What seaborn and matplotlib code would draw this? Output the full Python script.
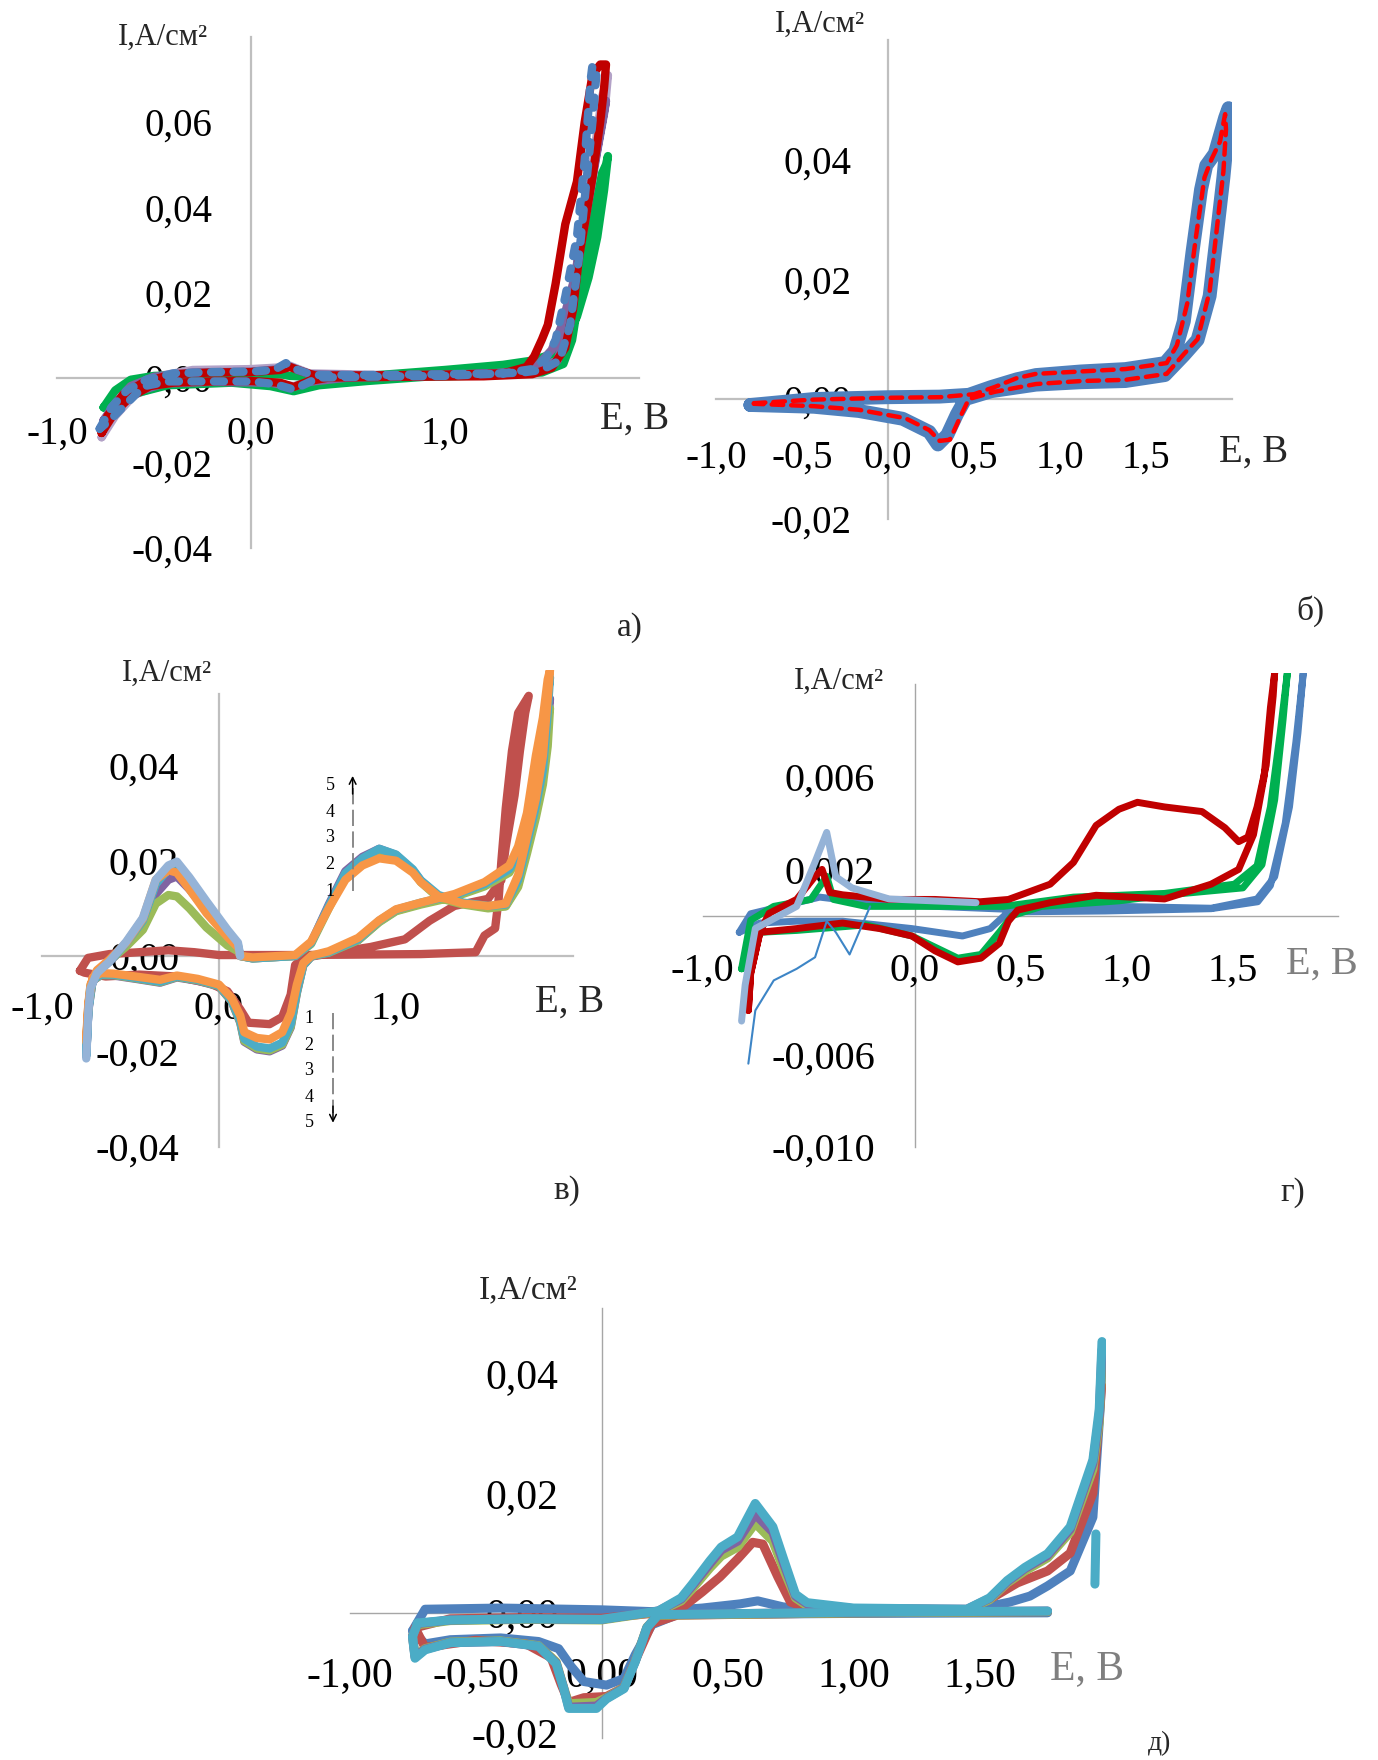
import matplotlib
matplotlib.use("Agg")
import matplotlib.pyplot as plt
import seaborn as sns

W, H = 1378, 1760

# ---------------- panel а) ----------------
a_red_E = [-0.77, -0.74, -0.66, -0.55, -0.40, -0.20, 0.00, 0.15, 0.20, 0.26, 0.33, 0.60, 1.00, 1.30, 1.42,
           1.46, 1.50, 1.53, 1.57, 1.62, 1.68, 1.72, 1.76, 1.80, 1.83, 1.82, 1.80, 1.76, 1.72, 1.69, 1.66,
           1.62, 1.55, 1.45, 1.20, 0.80, 0.40, 0.30, 0.22, 0.15, 0.00, -0.20, -0.40, -0.52, -0.62, -0.70, -0.77]
a_red_I = [-0.013, -0.009, -0.004, -0.001, 0.0008, 0.0012, 0.0013, 0.0018, 0.0025, 0.0015, 0.0005, 0.0005,
           0.0007, 0.0010, 0.0025, 0.005, 0.009, 0.0124, 0.022, 0.036, 0.046, 0.060, 0.071, 0.0735, 0.0735,
           0.068, 0.060, 0.047, 0.036, 0.028, 0.016, 0.007, 0.0023, 0.0008, 0.0003, 0.0002, 0.0, -0.0008,
           -0.0022, -0.0012, -0.0008, -0.0009, -0.0012, -0.002, -0.0045, -0.008, -0.013]

a_blue_E = [-0.78, -0.72, -0.64, -0.54, -0.40, -0.20, 0.00, 0.12, 0.18, 0.24, 0.32, 0.60, 1.00, 1.30, 1.45,
            1.52, 1.57, 1.62, 1.68, 1.72, 1.75, 1.76, 1.78, 1.76, 1.73, 1.69, 1.645, 1.59, 1.50, 1.40, 1.00,
            0.60, 0.35, 0.28, 0.22, 0.12, 0.00, -0.20, -0.43, -0.55, -0.64, -0.72, -0.78]
a_blue_I = [-0.012, -0.007, -0.003, -0.0005, 0.0010, 0.0013, 0.0014, 0.0018, 0.0034, 0.0018, 0.0006, 0.0006,
            0.0008, 0.0010, 0.0020, 0.0045, 0.0088, 0.019, 0.033, 0.051, 0.0696, 0.0733, 0.071, 0.060, 0.0465,
            0.028, 0.0124, 0.004, 0.0018, 0.0012, 0.0004, 0.0002, 0.0, -0.0015, -0.0028, -0.0015, -0.0009,
            -0.0009, -0.0009, -0.002, -0.006, -0.0097, -0.012]

a_green_E = [-0.76, -0.70, -0.62, -0.50, -0.30, 0.00, 0.15, 0.20, 0.30, 0.60, 1.00, 1.30, 1.45, 1.55, 1.62,
             1.68, 1.74, 1.785, 1.82, 1.84, 1.83, 1.81, 1.76, 1.70, 1.655, 1.61, 1.50, 1.20, 0.90, 0.60, 0.35,
             0.22, 0.10, -0.10, -0.43, -0.62, -0.70, -0.76]
a_green_I = [-0.007, -0.003, -0.0005, 0.0004, 0.0006, 0.0006, 0.0008, 0.0004, 0.0002, 0.0004, 0.0018, 0.0030,
             0.0040, 0.0055, 0.009, 0.0143, 0.0235, 0.033, 0.044, 0.052, 0.050, 0.048, 0.036, 0.0217, 0.0088,
             0.0032, 0.0012, 0.0005, 0.0002, -0.0008, -0.0018, -0.0032, -0.002, -0.0012, -0.0018, -0.004,
             -0.0055, -0.007]

a_purple_E = [-0.76, -0.70, -0.62, -0.50, -0.30, 0.00, 0.15, 0.20, 0.30, 0.60, 1.00, 1.35, 1.48, 1.55, 1.60,
              1.66, 1.72, 1.77, 1.81, 1.83, 1.82, 1.78, 1.73, 1.68, 1.63, 1.58, 1.45, 1.00, 0.50, 0.30, 0.22,
              0.10, -0.20, -0.45, -0.60, -0.69, -0.76]
a_purple_I = [-0.010, -0.006, -0.002, 0.0002, 0.0012, 0.0014, 0.0020, 0.0026, 0.0008, 0.0005, 0.0007, 0.0012,
              0.0030, 0.0065, 0.012, 0.022, 0.036, 0.050, 0.060, 0.065, 0.062, 0.052, 0.040, 0.026, 0.012,
              0.004, 0.0015, 0.0004, 0.0, -0.0010, -0.0022, -0.0012, -0.0010, -0.0014, -0.0035, -0.007, -0.010]

a_lav_E = [-0.77, -0.72, -0.64, -0.52, -0.30, 0.00, 0.15, 0.20, 0.30, 0.70, 1.20, 1.45, 1.55, 1.62, 1.70,
           1.76, 1.81, 1.84, 1.83, 1.79, 1.74, 1.68, 1.62, 1.55, 1.30, 0.70, 0.32, 0.22, 0.10, -0.20, -0.45,
           -0.60, -0.70, -0.77]
a_lav_I = [-0.014, -0.009, -0.004, 0.0, 0.0018, 0.0020, 0.0024, 0.0028, 0.0010, 0.0006, 0.0009, 0.0020,
           0.0060, 0.014, 0.030, 0.050, 0.066, 0.071, 0.066, 0.055, 0.040, 0.024, 0.010, 0.003, 0.0008, 0.0002,
           -0.0006, -0.0020, -0.0012, -0.0010, -0.0015, -0.004, -0.009, -0.014]

# ---------------- panel б) ----------------
b_blue_E = [-0.80, -0.43, 0.00, 0.30, 0.47, 0.60, 0.75, 0.86, 1.12, 1.38, 1.61, 1.67, 1.72, 1.77, 1.82, 1.85,
            1.90, 1.96, 1.98, 1.98, 1.95, 1.91, 1.87, 1.80, 1.72, 1.61, 1.38, 1.12, 0.86, 0.60, 0.45, 0.40,
            0.345, 0.29, 0.24, 0.085, -0.17, -0.43, -0.80]
b_blue_I = [-0.001, 0.0, 0.0003, 0.0004, 0.0007, 0.002, 0.0033, 0.004, 0.0046, 0.005, 0.006, 0.008, 0.013,
            0.0245, 0.035, 0.039, 0.041, 0.047, 0.0486, 0.046, 0.037, 0.027, 0.0172, 0.0099, 0.0073, 0.0040,
            0.0030, 0.0028, 0.0024, 0.0013, 0.0, -0.0026, -0.0060, -0.0076, -0.0055, -0.0033, -0.0020,
            -0.0013, -0.0010]

b_red_E = [-0.78, -0.43, 0.00, 0.30, 0.50, 0.62, 0.75, 0.86, 1.12, 1.38, 1.62, 1.68, 1.74, 1.79, 1.84, 1.88,
           1.93, 1.96, 1.965, 1.95, 1.91, 1.87, 1.80, 1.72, 1.62, 1.38, 1.12, 0.86, 0.62, 0.47, 0.42, 0.36,
           0.30, 0.24, 0.10, -0.17, -0.43, -0.78]
b_red_I = [-0.0007, -0.0001, 0.0002, 0.0003, 0.0008, 0.002, 0.0035, 0.0042, 0.0046, 0.005, 0.006, 0.009,
           0.016, 0.027, 0.037, 0.040, 0.043, 0.0476, 0.045, 0.038, 0.028, 0.018, 0.010, 0.0075, 0.0042,
           0.0032, 0.003, 0.0025, 0.0012, 0.0, -0.003, -0.0068, -0.0070, -0.0052, -0.0032, -0.0018, -0.0012,
           -0.0008]

# ---------------- panel в) ----------------
v_E = [-0.75, -0.738, -0.726, -0.69, -0.62, -0.524, -0.43, -0.357, -0.286, -0.238, -0.167, -0.071, 0.048,
       0.107, 0.12, 0.19, 0.43, 0.52, 0.62, 0.714, 0.81, 0.905, 1.0, 1.095, 1.14, 1.24, 1.38, 1.52, 1.62,
       1.69, 1.74, 1.79, 1.83, 1.857, 1.87,
       1.857, 1.83, 1.79, 1.74, 1.69, 1.64, 1.5, 1.33, 1.14, 1.0, 0.905, 0.786, 0.62, 0.524, 0.476, 0.44,
       0.405, 0.357, 0.286, 0.214, 0.143, 0.12, 0.071, 0.0, -0.12, -0.238, -0.333, -0.452, -0.595, -0.667,
       -0.714, -0.738, -0.75]
v_teal_I = [-0.0209, -0.0112, -0.0066, -0.0035, -0.0012, 0.0027, 0.0074, 0.0151, 0.0182, 0.0190, 0.0155,
            0.0105, 0.005, 0.0023, 0.0, -0.0005, 0.0, 0.0027, 0.0105, 0.0174, 0.0205, 0.0225, 0.0213, 0.0182,
            0.0159, 0.0128, 0.0112, 0.0105, 0.0108, 0.0159, 0.0236, 0.0314, 0.039, 0.051, 0.0585,
            0.0546, 0.0469, 0.039, 0.0275, 0.0213, 0.0182, 0.0151, 0.0128, 0.0112, 0.0097, 0.0074, 0.0035,
            0.0008, 0.0, -0.0019, -0.0074, -0.0143, -0.0182, -0.0194, -0.019, -0.0174, -0.0136, -0.0093,
            -0.0062, -0.005, -0.0043, -0.0054, -0.0047, -0.0039, -0.0039, -0.005, -0.0112, -0.0209]
v_purple_I = [-0.0209, -0.0112, -0.0066, -0.0035, -0.0012, 0.0022, 0.0062, 0.0130, 0.0160, 0.0167, 0.0140,
              0.0095, 0.0045, 0.0020, 0.0, -0.0005, 0.0, 0.0027, 0.0108, 0.0178, 0.0208, 0.0225, 0.0212,
              0.0180, 0.0158, 0.0125, 0.0110, 0.0102, 0.0105, 0.0150, 0.0225, 0.0300, 0.0380, 0.0470, 0.0540,
              0.0520, 0.0450, 0.0375, 0.0265, 0.0208, 0.0178, 0.0148, 0.0126, 0.0110, 0.0095, 0.0072, 0.0033,
              0.0007, 0.0, -0.0020, -0.0078, -0.0150, -0.0188, -0.0200, -0.0196, -0.0180, -0.0140, -0.0095,
              -0.0064, -0.0052, -0.0045, -0.0056, -0.0049, -0.0041, -0.0040, -0.0052, -0.0115, -0.0205]
v_green_I = [-0.019, -0.0105, -0.0062, -0.0033, -0.0010, 0.0020, 0.0055, 0.0110, 0.0128, 0.0125, 0.0100,
             0.0060, 0.0022, 0.0010, 0.0, -0.0005, 0.0, 0.0025, 0.0100, 0.0170, 0.0200, 0.0212, 0.0205, 0.0178,
             0.0155, 0.0122, 0.0108, 0.0100, 0.0104, 0.0145, 0.0215, 0.0290, 0.0360, 0.0440, 0.0520,
             0.0500, 0.0430, 0.0360, 0.0260, 0.0205, 0.0175, 0.0146, 0.0124, 0.0108, 0.0094, 0.0071, 0.0033,
             0.0007, 0.0, -0.0019, -0.0076, -0.0148, -0.0186, -0.0198, -0.0194, -0.0178, -0.0138, -0.0094,
             -0.0063, -0.0051, -0.0044, -0.0055, -0.0048, -0.0040, -0.0040, -0.0051, -0.0110, -0.0180]
v_orange_I = [-0.018, -0.010, -0.006, -0.0030, -0.0008, 0.0028, 0.0078, 0.0160, 0.0180, 0.0175, 0.0140,
              0.0090, 0.0040, 0.0018, 0.0, -0.0003, 0.0002, 0.0030, 0.0100, 0.0160, 0.0190, 0.0205, 0.0200,
              0.0175, 0.0155, 0.0125, 0.0110, 0.0105, 0.0110, 0.0170, 0.0250, 0.0330, 0.0420, 0.0540, 0.0600,
              0.0580, 0.0500, 0.0420, 0.0300, 0.0230, 0.0190, 0.0155, 0.0130, 0.0112, 0.0098, 0.0075, 0.0038,
              0.0010, 0.0001, -0.0015, -0.0060, -0.0120, -0.0160, -0.0175, -0.0172, -0.0160, -0.0125, -0.0088,
              -0.0060, -0.0048, -0.0041, -0.0050, -0.0044, -0.0037, -0.0036, -0.0045, -0.0100, -0.0170]
v_lblue_I = [-0.0215, -0.0115, -0.0068, -0.0036, -0.0012, 0.0030, 0.0080, 0.0160, 0.0190, 0.0198, 0.0165,
             0.0115, 0.0055, 0.0028, 0.0]
v_red_E = [-0.786, -0.74, -0.62, -0.45, -0.286, -0.14, 0.0, 0.43, 0.80, 1.14, 1.45, 1.50, 1.56, 1.58, 1.595,
           1.62, 1.655, 1.69, 1.75, 1.73, 1.70, 1.67, 1.62, 1.595, 1.52, 1.33, 1.19, 1.05, 0.857, 0.667, 0.476,
           0.43, 0.405, 0.357, 0.286, 0.167, 0.12, 0.048, -0.048, -0.24, -0.45, -0.64, -0.76, -0.786]
v_red_I = [-0.0031, -0.0004, 0.0004, 0.0008, 0.0012, 0.0008, 0.0002, 0.0002, 0.0003, 0.0004, 0.0008, 0.0043,
           0.0058, 0.0120, 0.0198, 0.031, 0.043, 0.051, 0.0546, 0.051, 0.043, 0.0337, 0.0229, 0.0159, 0.0120,
           0.0105, 0.0074, 0.0035, 0.0019, 0.0008, -0.0004, -0.0019, -0.0081, -0.0128, -0.0143, -0.0140,
           -0.0112, -0.0074, -0.0058, -0.0043, -0.0039, -0.0043, -0.0035, -0.0031]

# ---------------- panel г) ----------------
g_red_E = [-0.785, -0.774, -0.73, -0.687, -0.557, -0.47, -0.437, -0.40, -0.34, -0.12, 0.096, 0.31, 0.443,
           0.64, 0.75, 0.857, 0.965, 1.052, 1.18, 1.357, 1.465, 1.53, 1.574, 1.617, 1.66, 1.693, 1.70,
           1.68, 1.65, 1.60, 1.53, 1.40, 1.18, 0.857, 0.64, 0.487, 0.443, 0.40, 0.313, 0.204, 0.096, -0.013,
           -0.165, -0.34, -0.557, -0.73, -0.774, -0.785]
g_red_I = [-0.0041, -0.0025, -0.0007, 0.0001, 0.0007, 0.0017, 0.0020, 0.0010, 0.0009, 0.0007, 0.0007, 0.0006,
           0.0007, 0.00136, 0.0023, 0.0039, 0.0046, 0.0049, 0.0047, 0.0045, 0.0038, 0.0032, 0.0034, 0.0047,
           0.0065, 0.0095, 0.0105,
           0.0090, 0.0060, 0.0035, 0.0020, 0.00136, 0.00072, 0.00088, 0.00056, 0.00024, -0.00024, -0.0012,
           -0.00184, -0.0020, -0.00152, -0.00088, -0.00056, -0.00032, -0.00056, -0.00072, -0.0025, -0.0041]
g_green_E = [-0.817, -0.774, -0.665, -0.49, -0.415, -0.383, -0.23, 0.096, 0.42, 0.75, 1.18, 1.51, 1.617, 1.68,
             1.726, 1.76, 1.74, 1.70, 1.64, 1.55, 1.2, 0.965, 0.60, 0.46, 0.40, 0.313, 0.204, -0.013, -0.23,
             -0.557, -0.73, -0.796, -0.817]
g_green_I = [-0.0023, -0.0002, 0.0004, 0.0007, 0.0017, 0.0007, 0.0004, 0.0004, 0.0004, 0.0008, 0.00096,
             0.00136, 0.00216, 0.0047, 0.0079, 0.0105, 0.0085, 0.0050, 0.0022, 0.0012, 0.0009, 0.00064, 0.0004,
             0.0, -0.00072, -0.00168, -0.00184, -0.00088, -0.0004, -0.00064, -0.00072, -0.0020, -0.0023]
g_blue_E = [-0.828, -0.774, -0.665, -0.448, -0.23, 0.10, 0.53, 0.965, 1.40, 1.617, 1.70, 1.77, 1.81, 1.835,
            1.80, 1.75, 1.68, 1.62, 1.40, 0.90, 0.443, 0.357, 0.226, -0.013, -0.34, -0.557, -0.73, -0.828]
g_blue_I = [-0.00072, 0.00008, 0.00032, 0.0008, 0.00056, 0.0004, 0.00024, 0.0004, 0.00032, 0.00072, 0.00168,
            0.0047, 0.0079, 0.0105, 0.0075, 0.0040, 0.0013, 0.0006, 0.0003, 0.0002, 0.00016, -0.00056,
            -0.00088, -0.00056, -0.00024, -0.00024, -0.00032, -0.00072]
g_lblue_E = [-0.817, -0.80, -0.752, -0.557, -0.47, -0.415, -0.372, -0.296, -0.12, 0.29]
g_lblue_I = [-0.00456, -0.0030, -0.00056, 0.0004, 0.00232, 0.0036, 0.00168, 0.0012, 0.00072, 0.00056]
g_thin_E = [-0.785, -0.752, -0.665, -0.557, -0.47, -0.415, -0.372, -0.307, -0.21]
g_thin_I = [-0.0064, -0.0041, -0.0028, -0.0023, -0.0018, -0.00024, -0.00072, -0.00168, 0.0004]

# ---------------- panel д) ----------------
d_fwd_E = [-0.73, -0.60, -0.30, 0.0, 0.225, 0.316, 0.36, 0.43, 0.475, 0.54, 0.61, 0.68, 0.725, 0.77, 0.816,
           1.0, 1.45, 1.54, 1.61, 1.68, 1.77, 1.86, 1.95, 1.975, 1.986]
d_rev_E = [1.77, 1.0, 0.225, 0.18, 0.134, 0.089, 0.02, -0.02, -0.13, -0.15, -0.18, -0.25, -0.40, -0.60, -0.70,
           -0.74, -0.75, -0.73]
d_cyan_fwd = [-0.0017, -0.0012, -0.0010, -0.0011, 0.0003, 0.0025, 0.0048, 0.0087, 0.0110, 0.0127, 0.0183,
              0.0144, 0.0087, 0.0031, 0.0017, 0.0008, 0.0006, 0.0025, 0.0054, 0.0076, 0.0099, 0.0144, 0.0256,
              0.0340, 0.0454]
d_cyan_rev = [0.0003, 0.0001, -0.0003, -0.0025, -0.0082, -0.0127, -0.0144, -0.0160, -0.0160, -0.0127, -0.0085,
              -0.0056, -0.0048, -0.0050, -0.0062, -0.0076, -0.0040, -0.0017]
d_green_fwd = [-0.0020, -0.0013, -0.0011, -0.0012, 0.0002, 0.0020, 0.0040, 0.0075, 0.0095, 0.0110, 0.0150,
               0.0120, 0.0070, 0.0025, 0.0012, 0.0006, 0.0005, 0.0022, 0.0050, 0.0070, 0.0092, 0.0135, 0.0240,
               0.0320, 0.0420]
d_green_rev = [0.0002, 0.0, -0.0004, -0.0024, -0.0080, -0.0125, -0.0142, -0.0150, -0.0152, -0.0125, -0.0082,
               -0.0055, -0.0047, -0.0049, -0.0060, -0.0072, -0.0038, -0.0020]
d_purple_fwd = [-0.0018, -0.0012, -0.0010, -0.0011, 0.0003, 0.0023, 0.0045, 0.0082, 0.0105, 0.0120, 0.0165,
                0.0135, 0.0080, 0.0028, 0.0015, 0.0007, 0.0006, 0.0024, 0.0052, 0.0074, 0.0096, 0.0140, 0.0250,
                0.0330, 0.0440]
d_purple_rev = [0.0003, 0.0001, -0.0003, -0.0025, -0.0081, -0.0126, -0.0143, -0.0156, -0.0158, -0.0126,
                -0.0084, -0.0056, -0.0048, -0.0050, -0.0061, -0.0074, -0.0039, -0.0018]
d_blue_fwd_E = [-0.75, -0.70, -0.40, 0.0, 0.2, 0.40, 0.55, 0.62, 0.72, 0.85, 1.45, 1.55, 1.62, 1.70, 1.77,
                1.86, 1.95, 1.98, 1.986]
d_blue_fwd_I = [-0.003, 0.0006, 0.0008, 0.0005, 0.0002, 0.0008, 0.0015, 0.0020, 0.0010, 0.0004, 0.0004,
                0.0012, 0.0018, 0.0028, 0.0045, 0.0070, 0.0160, 0.0350, 0.0430]
d_blue_rev_E = [1.77, 1.0, 0.3, 0.2, 0.134, 0.089, 0.02, -0.07, -0.12, -0.17, -0.25, -0.40, -0.60, -0.70, -0.75]
d_blue_rev_I = [0.0, -0.0001, -0.0003, -0.0020, -0.0070, -0.0110, -0.0121, -0.0115, -0.0090, -0.0060, -0.0048,
                -0.0042, -0.0045, -0.0052, -0.003]
d_red_fwd_E = [-0.74, -0.60, -0.30, 0.0, 0.225, 0.33, 0.40, 0.47, 0.54, 0.60, 0.64, 0.70, 0.75, 0.82, 1.45,
               1.55, 1.65, 1.77, 1.86, 1.95, 1.985]
d_red_fwd_I = [-0.0025, -0.0010, -0.0008, -0.0009, 0.0, 0.0012, 0.0035, 0.0060, 0.0090, 0.0118, 0.0115,
               0.0060, 0.0018, 0.0008, 0.0005, 0.0025, 0.0050, 0.0070, 0.0100, 0.0200, 0.0380]
d_red_rev_E = [1.77, 1.0, 0.3, 0.2, 0.134, 0.089, 0.02, -0.07, -0.13, -0.16, -0.20, -0.30, -0.50, -0.70, -0.74]
d_red_rev_I = [0.0002, 0.0, -0.0004, -0.0018, -0.0080, -0.0125, -0.0140, -0.0142, -0.0150, -0.0120, -0.0075,
               -0.0052, -0.0046, -0.0058, -0.0025]
d_tail_E = [1.962, 1.958]
d_tail_I = [0.0132, 0.0048]

# colours
C_BLUE, C_RED, C_GREEN, C_PURPLE = "#4f81bd", "#c00000", "#00b050", "#8064a2"
C_BROWN, C_OLIVE, C_TEAL, C_ORANGE = "#c0504d", "#9bbb59", "#4bacc6", "#f79646"
C_LBLUE, C_LAV = "#95b3d7", "#b3a2c7"

sns.set_theme(style="white")
plt.rcParams["font.family"] = ["Liberation Serif", "DejaVu Serif"]

fig = plt.figure(figsize=(W / 100, H / 100), dpi=100)


def make_axes(x0, x1, ytop, ybot, ylim, xticks, xlabels, yticks, ylabels, ybounds, xbounds,
              spine_color, spine_lw, ytick_len, xpad, ypad, fs):
    ax = fig.add_axes([x0 / W, 1 - ybot / H, (x1 - x0) / W, (ybot - ytop) / H])
    ax.set_xlim(-1, 2)
    ax.set_ylim(*ylim)
    ax.patch.set_alpha(0)
    for s in ["top", "right"]:
        ax.spines[s].set_visible(False)
    ax.spines["left"].set_position(("data", 0))
    ax.spines["bottom"].set_position(("data", 0))
    ax.spines["left"].set_bounds(*ybounds)
    ax.spines["bottom"].set_bounds(*xbounds)
    for s in ["left", "bottom"]:
        ax.spines[s].set_color(spine_color)
        ax.spines[s].set_linewidth(spine_lw)
        ax.spines[s].set_zorder(0.5)
    ax.set_xticks(xticks, xlabels)
    ax.set_yticks(yticks, ylabels)
    ax.tick_params(axis="x", length=0, pad=xpad, labelsize=fs, colors="black")
    ax.tick_params(axis="y", direction="out", length=ytick_len, width=1.5, color=spine_color,
                   pad=ypad, labelsize=fs, labelcolor="black")
    ax.grid(False)
    return ax


def curve(ax, E, I, color, lw, ls="-", z=2):
    sns.lineplot(x=E, y=I, ax=ax, sort=False, estimator=None, color=color, linewidth=lw,
                 linestyle=ls, zorder=z, solid_capstyle="round", dash_capstyle="round",
                 solid_joinstyle="round")


# а)
ax_a = make_axes(57, 639, 36.8, 548.0, (-0.04, 0.08), [-1, 0, 1], ["-1,0", "0,0", "1,0"],
                 [-0.04, -0.02, 0, 0.02, 0.04, 0.06],
                 ["-0,04", "-0,02", "0,00", "0,02", "0,04", "0,06"],
                 (-0.04, 0.08), (-1, 2), "#bfbfbf", 1.6, 8, 27.5, 20, 28)
curve(ax_a, a_lav_E, a_lav_I, C_LAV, 6)
curve(ax_a, a_green_E, a_green_I, C_GREEN, 6)
curve(ax_a, a_purple_E, a_purple_I, C_PURPLE, 6)
curve(ax_a, a_red_E, a_red_I, C_RED, 6)
curve(ax_a, a_blue_E, a_blue_I, C_BLUE, 6, ls=(0, (1.2, 1.5)))

# б)
ax_b = make_axes(716, 1232, 39.9, 518.7, (-0.02, 0.06), [-1, -0.5, 0, 0.5, 1, 1.5],
                 ["-1,0", "-0,5", "0,0", "0,5", "1,0", "1,5"],
                 [-0.02, 0, 0.02, 0.04], ["-0,02", "0,00", "0,02", "0,04"],
                 (-0.02, 0.06), (-1, 2), "#bfbfbf", 1.6, 8.5, 29.4, 17.7, 28)
curve(ax_b, b_blue_E, b_blue_I, C_BLUE, 10)
curve(ax_b, b_red_E, b_red_I, "#ff0000", 3.2, ls=(0, (2.6, 1.8)))

# в)
ax_v = make_axes(42, 573, 670.1, 1146.6, (-0.04, 0.06), [-1, 0, 1], ["-1,0", "0,0", "1,0"],
                 [-0.04, -0.02, 0, 0.02, 0.04], ["-0,04", "-0,02", "0,00", "0,02", "0,04"],
                 (-0.04, 0.055), (-1, 2), "#bfbfbf", 1.6, 9, 25, 19.7, 29)
curve(ax_v, v_red_E, v_red_I, C_BROWN, 6)
curve(ax_v, v_E, v_purple_I, C_PURPLE, 6)
curve(ax_v, v_E, v_green_I, C_OLIVE, 6)
curve(ax_v, v_E, v_teal_I, C_TEAL, 6)
curve(ax_v, v_E, v_orange_I, C_ORANGE, 6)
curve(ax_v, v_E[:15], v_lblue_I, C_LBLUE, 6)

# numbered cycle markers with dashed arrows
for k, yv in zip(["5", "4", "3", "2", "1"], [0.0357, 0.0302, 0.0248, 0.0193, 0.0136]):
    ax_v.text(0.627, yv, k, fontsize=13, ha="center", va="center", color="black")
for k, yv in zip(["1", "2", "3", "4", "5"], [-0.0132, -0.0187, -0.0241, -0.0296, -0.0350]):
    ax_v.text(0.508, yv, k, fontsize=13, ha="center", va="center", color="black")
ax_v.plot([0.755, 0.755], [0.0136, 0.0362], color="#808080", lw=1.3, ls=(0, (9, 3)))
ax_v.annotate("", xy=(0.755, 0.0378), xytext=(0.755, 0.0340),
              arrowprops=dict(arrowstyle="->", lw=1.1, color="black", shrinkA=0, shrinkB=0))
ax_v.plot([0.644, 0.644], [-0.0120, -0.0330], color="#808080", lw=1.3, ls=(0, (9, 3)))
ax_v.annotate("", xy=(0.644, -0.0350), xytext=(0.644, -0.0315),
              arrowprops=dict(arrowstyle="->", lw=1.1, color="black", shrinkA=0, shrinkB=0))

# г)
ax_g = make_axes(702.8, 1338.2, 672.8, 1146.9, (-0.010, 0.0105), [-1, 0, 0.5, 1, 1.5],
                 ["-1,0", "0,0", "0,5", "1,0", "1,5"],
                 [-0.010, -0.006, 0.002, 0.006], ["-0,010", "-0,006", "0,002", "0,006"],
                 (-0.010, 0.010), (-1, 2), "#a6a6a6", 1.0, 0, 26.5, 28.5, 29)
curve(ax_g, g_blue_E, g_blue_I, C_BLUE, 5)
curve(ax_g, g_green_E, g_green_I, C_GREEN, 5)
curve(ax_g, g_red_E, g_red_I, C_RED, 5)
curve(ax_g, g_lblue_E, g_lblue_I, C_LBLUE, 5)
curve(ax_g, g_thin_E, g_thin_I, "#3d85c6", 1.5)

# д)
ax_d = make_axes(349.5, 1105.5, 1302.1, 1738.3, (-0.021, 0.052), [-1, -0.5, 0, 0.5, 1, 1.5],
                 ["-1,00", "-0,50", "0,00", "0,50", "1,00", "1,50"],
                 [-0.02, 0, 0.02, 0.04], ["-0,02", "0,00", "0,02", "0,04"],
                 (-0.021, 0.051), (-1, 1.78), "#a6a6a6", 1.0, 0, 31.5, 31.4, 30)
curve(ax_d, d_blue_fwd_E, d_blue_fwd_I, C_BLUE, 6.5)
curve(ax_d, d_blue_rev_E, d_blue_rev_I, C_BLUE, 6.5)
curve(ax_d, d_red_fwd_E, d_red_fwd_I, C_BROWN, 6.5)
curve(ax_d, d_red_rev_E, d_red_rev_I, C_BROWN, 6.5)
curve(ax_d, d_fwd_E, d_green_fwd, C_OLIVE, 6.5)
curve(ax_d, d_rev_E, d_green_rev, C_OLIVE, 6.5)
curve(ax_d, d_fwd_E, d_purple_fwd, C_PURPLE, 6.5)
curve(ax_d, d_rev_E, d_purple_rev, C_PURPLE, 6.5)
curve(ax_d, d_fwd_E, d_cyan_fwd, C_TEAL, 6.5)
curve(ax_d, d_rev_E, d_cyan_rev, C_TEAL, 6.5)
curve(ax_d, d_tail_E, d_tail_I, C_TEAL, 6.5)


# axis captions and panel letters (pixel positions)
def ftext(x, y, s, **kw):
    fig.text(x / W, 1 - y / H, s, **kw)


for x, y, fs in [(208, 37, 22), (865, 24, 22), (212, 673, 22), (884, 681, 22), (578, 1290, 24)]:
    ftext(x, y, "I,A/см²", fontsize=fs, ha="right", va="center")

ftext(600, 419, "E, B", fontsize=28, ha="left", va="center")
ftext(1219, 452, "E, B", fontsize=28, ha="left", va="center")
ftext(535, 1002, "E, B", fontsize=28, ha="left", va="center")
ftext(1286, 964, "E, B", fontsize=29, ha="left", va="center", color="#7f7f7f")
ftext(1050, 1669, "E, B", fontsize=30, ha="left", va="center", color="#7f7f7f")

ftext(630, 628, "а)", fontsize=24, ha="center", va="center")
ftext(1310, 611, "б)", fontsize=24, ha="center", va="center")
ftext(567, 1191, "в)", fontsize=24, ha="center", va="center")
ftext(1293, 1193, "г)", fontsize=24, ha="center", va="center")
ftext(1160, 1756, "д)", fontsize=20, ha="center", va="bottom")

fig.savefig("out.png", dpi=100)
